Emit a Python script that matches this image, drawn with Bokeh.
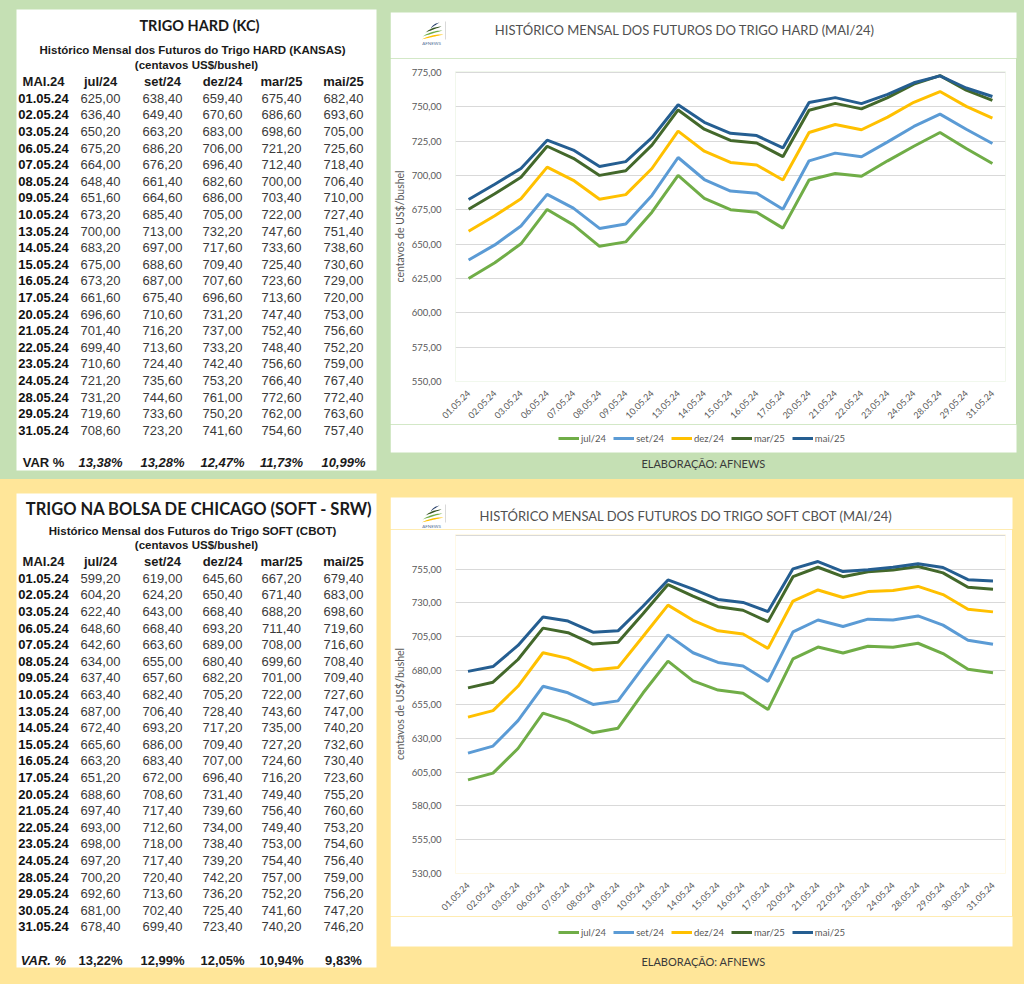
import math
import numpy as np
from bokeh.plotting import figure
from bokeh.layouts import row, column
from bokeh.models import Range1d, FactorRange, FixedTicker, Spacer, PlainText
from bokeh.core.properties import value
from bokeh.embed import file_html
from bokeh.resources import INLINE

GREEN = "#c5e0b4"
YELLOW = "#ffe699"
LATO = "Lato"
ARIAL = "Liberation Sans"

contracts = ["jul/24", "set/24", "dez/24", "mar/25", "mai/25"]
line_colors = ["#70ad47", "#5b9bd5", "#ffc000", "#43682b", "#255e91"]

# ---------------- TRIGO HARD (KC) ----------------
hard_dates = ["01.05.24", "02.05.24", "03.05.24", "06.05.24", "07.05.24", "08.05.24",
              "09.05.24", "10.05.24", "13.05.24", "14.05.24", "15.05.24", "16.05.24",
              "17.05.24", "20.05.24", "21.05.24", "22.05.24", "23.05.24", "24.05.24",
              "28.05.24", "29.05.24", "31.05.24"]
hard_jul24 = [625.00, 636.40, 650.20, 675.20, 664.00, 648.40, 651.60, 673.20, 700.00, 683.20,
              675.00, 673.20, 661.60, 696.60, 701.40, 699.40, 710.60, 721.20, 731.20, 719.60, 708.60]
hard_set24 = [638.40, 649.40, 663.20, 686.20, 676.20, 661.40, 664.60, 685.40, 713.00, 697.00,
              688.60, 687.00, 675.40, 710.60, 716.20, 713.60, 724.40, 735.60, 744.60, 733.60, 723.20]
hard_dez24 = [659.40, 670.60, 683.00, 706.00, 696.40, 682.60, 686.00, 705.00, 732.20, 717.60,
              709.40, 707.60, 696.60, 731.20, 737.00, 733.20, 742.40, 753.20, 761.00, 750.20, 741.60]
hard_mar25 = [675.40, 686.60, 698.60, 721.20, 712.40, 700.00, 703.40, 722.00, 747.60, 733.60,
              725.40, 723.60, 713.60, 747.40, 752.40, 748.40, 756.60, 766.40, 772.60, 762.00, 754.60]
hard_mai25 = [682.40, 693.60, 705.00, 725.60, 718.40, 706.40, 710.00, 727.40, 751.40, 738.60,
              730.60, 729.00, 720.00, 753.00, 756.60, 752.20, 759.00, 767.40, 772.40, 763.60, 757.40]
hard_var = ["13,38%", "13,28%", "12,47%", "11,73%", "10,99%"]
hard_ticks = [550, 575, 600, 625, 650, 675, 700, 725, 750, 775]

# ---------------- TRIGO SOFT (CBOT) ----------------
soft_dates = ["01.05.24", "02.05.24", "03.05.24", "06.05.24", "07.05.24", "08.05.24",
              "09.05.24", "10.05.24", "13.05.24", "14.05.24", "15.05.24", "16.05.24",
              "17.05.24", "20.05.24", "21.05.24", "22.05.24", "23.05.24", "24.05.24",
              "28.05.24", "29.05.24", "30.05.24", "31.05.24"]
soft_jul24 = [599.20, 604.20, 622.40, 648.60, 642.60, 634.00, 637.40, 663.40, 687.00, 672.40, 665.60,
              663.20, 651.20, 688.60, 697.40, 693.00, 698.00, 697.20, 700.20, 692.60, 681.00, 678.40]
soft_set24 = [619.00, 624.20, 643.00, 668.40, 663.60, 655.00, 657.60, 682.40, 706.40, 693.20, 686.00,
              683.40, 672.00, 708.60, 717.40, 712.60, 718.00, 717.40, 720.40, 713.60, 702.40, 699.40]
soft_dez24 = [645.60, 650.40, 668.40, 693.20, 689.00, 680.40, 682.20, 705.20, 728.40, 717.20, 709.40,
              707.00, 696.40, 731.40, 739.60, 734.00, 738.40, 739.20, 742.20, 736.20, 725.40, 723.40]
soft_mar25 = [667.20, 671.40, 688.20, 711.40, 708.00, 699.60, 701.00, 722.00, 743.60, 735.00, 727.20,
              724.60, 716.20, 749.40, 756.40, 749.40, 753.00, 754.40, 757.00, 752.20, 741.60, 740.20]
soft_mai25 = [679.40, 683.00, 698.60, 719.60, 716.60, 708.40, 709.40, 727.60, 747.00, 740.20, 732.60,
              730.40, 723.60, 755.20, 760.60, 753.20, 754.60, 756.40, 759.00, 756.20, 747.20, 746.20]
soft_var = ["13,22%", "12,99%", "12,05%", "10,94%", "9,83%"]
soft_ticks = [530, 555, 580, 605, 630, 655, 680, 705, 730, 755, 780]

hard_series = [hard_jul24, hard_set24, hard_dez24, hard_mar25, hard_mai25]
soft_series = [soft_jul24, soft_set24, soft_dez24, soft_mar25, soft_mai25]

LINE_W = 3


def fmt(v):
    return f"{v:.2f}".replace(".", ",")


def canvas(width, height, x0, y_top, bg):
    p = figure(width=width, height=height, x_range=Range1d(x0, x0 + width),
               y_range=Range1d(y_top + height, y_top), x_axis_type=None, y_axis_type=None,
               output_backend="svg", toolbar_location=None, min_border=0, frame_align=False,
               background_fill_color=bg, border_fill_color=bg, outline_line_color=None)
    p.grid.visible = False
    return p


def txt(p, x, y, s, size, font=ARIAL, color="#000000", style="normal", align="center"):
    p.text(x=[x], y=[y], text=[s], text_font=value(font), text_font_size=value(size),
           text_color=color, text_font_style=style, text_align=align, text_baseline="middle")


COLS = [100, 162, 222, 281, 343]
DATE_X = 43


def make_table(height, y_top, bg, box, title, title_xy, title_size, sub, sub_xy, unit_xy,
               header_y, row_y0, row_dy, dates, series, var_label, var_vals, var_y,
               var_label_style, var_val_style):
    p = canvas(390, height, 0, y_top, bg)
    p.quad(left=[box[0]], right=[box[1]], top=[box[2]], bottom=[box[3]],
           fill_color="white", line_color=None)
    txt(p, title_xy[0], title_xy[1], title, title_size, font=LATO, style="bold", color="#1a1a1a")
    txt(p, sub_xy[0], sub_xy[1], sub, "11.5px", style="bold", color="#1a1a1a")
    txt(p, unit_xy[0], unit_xy[1], "(centavos US$/bushel)", "11.5px", style="bold", color="#1a1a1a")
    txt(p, DATE_X, header_y, "MAI.24", "13px", style="bold", color="#1a1a1a")
    for cx, name in zip(COLS, contracts):
        txt(p, cx, header_y, name, "13px", style="bold", color="#1a1a1a")
    ys = [row_y0 + i * row_dy for i in range(len(dates))]
    p.text(x=[DATE_X] * len(dates), y=ys, text=dates, text_font=value(ARIAL),
           text_font_size=value("13px"), text_font_style="bold", text_color="#111111",
           text_align="center", text_baseline="middle")
    for cx, vals in zip(COLS, series):
        p.text(x=[cx] * len(vals), y=ys, text=[fmt(v) for v in vals], text_font=value(ARIAL),
               text_font_size=value("13px"), text_color="#3a3a3a",
               text_align="center", text_baseline="middle")
    txt(p, DATE_X, var_y, var_label, "13px", style=var_label_style, color="#1a1a1a")
    for cx, v in zip(COLS, var_vals):
        txt(p, cx, var_y, v, "13px", style=var_val_style, color="#1a1a1a")
    return p


def leaf(ax, ay, bx, by, b1, b2, n=14):
    t = np.linspace(0, 1, n)
    mx, my = (ax + bx) / 2, (ay + by) / 2
    dx, dy = bx - ax, by - ay
    L = math.hypot(dx, dy)
    nx, ny = -dy / L, dx / L
    def q(tt, b):
        cx, cy = mx + nx * b, my + ny * b
        return ((1 - tt) ** 2 * ax + 2 * (1 - tt) * tt * cx + tt ** 2 * bx,
                (1 - tt) ** 2 * ay + 2 * (1 - tt) * tt * cy + tt ** 2 * by)
    x1, y1 = q(t, b1)
    x2, y2 = q(t[::-1], b2)
    return list(x1) + list(x2), list(y1) + list(y2)


def draw_logo(p, ox, oy):
    specs = [((ox + 10, oy + 6), (ox + 19, oy + 0), -2.5, -0.3, "#1f3864"),
             ((ox + 5, oy + 10), (ox + 21, oy + 4), -3.0, 0.0, "#375623"),
             ((ox + 2, oy + 14), (ox + 22, oy + 8), -3.0, 0.0, "#70ad47"),
             ((ox + 1, oy + 17), (ox + 23, oy + 12), -3.0, 0.0, "#ffc000")]
    xs, ys, cs = [], [], []
    for a, b, b1, b2, c in specs:
        lx, ly = leaf(a[0], a[1], b[0], b[1], b1, b2)
        xs.append(lx); ys.append(ly); cs.append(c)
    p.patches(xs=xs, ys=ys, fill_color=cs, line_color=None)
    p.segment(x0=[ox + 25], y0=[oy - 1], x1=[ox + 25], y1=[oy + 17], line_color="#d9d9d9",
              line_width=1)
    txt(p, ox + 11, oy + 21, "AFNEWS", "4.5px", font=LATO, color="#4f6f98")


def make_header(height, y_top, bg, box_top, box_right, title, title_y, logo_y):
    p = canvas(634, height, 390, y_top, bg)
    p.quad(left=[390], right=[box_right], top=[box_top], bottom=[y_top + height],
           fill_color="white", line_color=None)
    draw_logo(p, 420, logo_y)
    txt(p, 686, title_y, title, "13px", font=LATO, color="#505050")
    return p


def make_legend_elab(height, y_top, bg, white_bottom, box_right, elab_y, leg_xy):
    """White strip holding the legend, then the band colour with the credit line."""
    p = canvas(634, height, 390, y_top, bg)
    p.quad(left=[390], right=[box_right], top=[y_top], bottom=[white_bottom],
           fill_color="white", line_color=None)
    # legend-only renderers: their points sit outside this strip's visible range
    for name, col in zip(contracts, line_colors):
        p.line(x=[0, 1], y=[y_top, y_top], line_color=col, line_width=LINE_W, legend_label=name)
    leg = p.legend[0]
    leg.orientation = "horizontal"
    leg.location = leg_xy
    leg.border_line_color = None
    leg.background_fill_alpha = 0
    leg.label_text_font = LATO
    leg.label_text_font_size = "9.5px"
    leg.label_text_color = "#595959"
    leg.glyph_width = 21
    leg.glyph_height = 14
    leg.label_height = 14
    leg.label_standoff = 2
    leg.spacing = 7
    leg.padding = 0
    leg.margin = 0
    txt(p, 703, elab_y, "ELABORAÇÃO: AFNEWS", "11px", font=LATO, color="#3a3a3a")
    return p


def make_chart(dates, series, ticks, hidden, width, height, mb_top, mb_bottom, mb_right):
    p = figure(x_range=FactorRange(factors=dates), y_range=Range1d(ticks[0], ticks[-1] + 0.6),
               width=width, height=height, output_backend="svg", toolbar_location=None,
               min_border_left=65, min_border_right=mb_right, min_border_top=mb_top,
               min_border_bottom=mb_bottom, background_fill_color="white", frame_align=False,
               border_fill_color="white", outline_line_color=None)
    for vals, col in zip(series, line_colors):
        p.line(x=dates, y=vals, line_color=col, line_width=LINE_W)
    p.xgrid.visible = False
    p.ygrid.grid_line_color = "#d9d9d9"
    p.yaxis.ticker = FixedTicker(ticks=ticks)
    p.yaxis.major_label_overrides = {t: ("" if t in hidden else fmt(t)) for t in ticks}
    for ax in (p.xaxis, p.yaxis):
        ax.axis_line_color = None
        ax.major_tick_line_color = None
        ax.minor_tick_line_color = None
        ax.major_label_text_font = LATO
        ax.major_label_text_color = "#595959"
    p.yaxis.major_label_text_font_size = "9.5px"
    p.yaxis.major_label_standoff = 8
    p.yaxis.axis_label = PlainText(text="centavos de US$/bushel")
    p.yaxis.axis_label_text_font = LATO
    p.yaxis.axis_label_text_font_size = "10.5px"
    p.yaxis.axis_label_text_font_style = "normal"
    p.yaxis.axis_label_text_color = "#595959"
    p.yaxis.axis_label_standoff = 3
    p.xaxis.major_label_orientation = math.pi / 4
    p.xaxis.major_label_text_font_size = "9px"
    p.xaxis.major_label_standoff = 4
    return p


# ---------------- top band (y 0..479) ----------------
table1 = make_table(479, 0, GREEN, (16, 376, 9, 470), "TRIGO HARD (KC)", (199, 25), "14.5px",
                    "Histórico Mensal dos Futuros do Trigo HARD (KANSAS)", (192, 49), (196, 64),
                    81, 97.7, 16.6, hard_dates, hard_series, "VAR %", hard_var, 461.5,
                    "bold", "bold italic")
header1 = make_header(58, 0, GREEN, 12, 1016,
                      "HISTÓRICO MENSAL DOS FUTUROS DO TRIGO HARD  (MAI/24)", 29, 22)
chart1 = make_chart(hard_dates, hard_series, hard_ticks, [], 626, 366, 13, 42, 11)
pad1 = Spacer(width=8, height=366, styles={"background-color": GREEN})
foot1 = make_legend_elab(55, 424, GREEN, 452, 1016, 463, (168, 34))
top = row(table1, column(header1, row(chart1, pad1), foot1), styles={"background-color": GREEN})

# ---------------- bottom band (y 479..984) ----------------
table2 = make_table(505, 479, YELLOW, (16, 376, 493, 967), "TRIGO NA BOLSA DE CHICAGO (SOFT - SRW)",
                    (199, 508), "16.5px", "Histórico Mensal dos Futuros do Trigo SOFT (CBOT)",
                    (192, 530), (196, 544), 561, 577.7, 16.6, soft_dates, soft_series,
                    "VAR. %", soft_var, 960, "bold italic", "bold")
header2 = make_header(50, 479, YELLOW, 497, 1012,
                      "HISTÓRICO MENSAL DOS FUTUROS DO TRIGO SOFT CBOT (MAI/24)", 515, 505)
chart2 = make_chart(soft_dates, soft_series, soft_ticks, [780], 622, 387, 5, 38, 7)
pad2 = Spacer(width=12, height=387, styles={"background-color": YELLOW})
foot2 = make_legend_elab(68, 916, YELLOW, 946, 1012, 961, (168, 45))
bottom = row(table2, column(header2, row(chart2, pad2), foot2), styles={"background-color": YELLOW})

root = column(top, bottom)
open("out.html", "w").write(file_html(root, INLINE, title="Trigo"))
